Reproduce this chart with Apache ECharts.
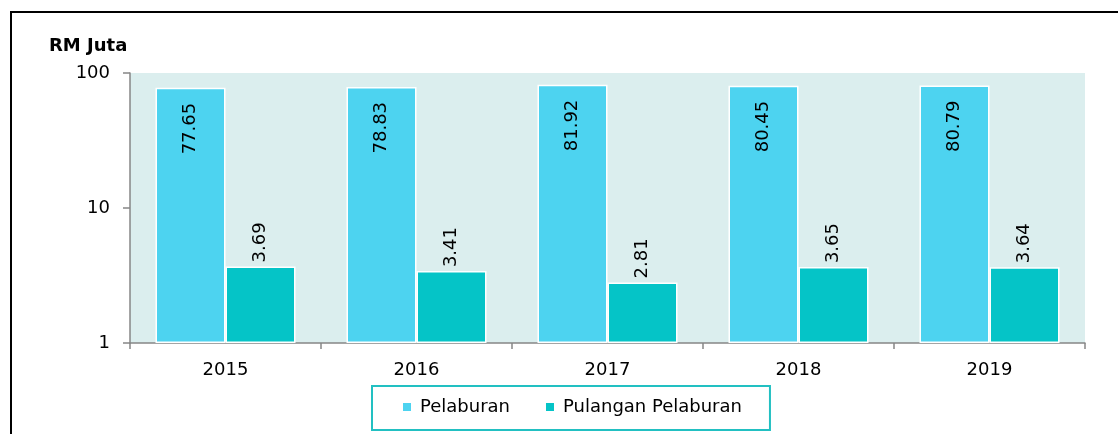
<!DOCTYPE html>
<html>
<head>
<meta charset="utf-8">
<script src="https://cdn.jsdelivr.net/npm/echarts@6/dist/echarts.min.js"></script>
<style>
  html, body { margin: 0; padding: 0; overflow: hidden; background: #fff; }
  .frame {
    position: absolute;
    left: 10px;
    top: 11px;
    width: 1200px;
    height: 600px;
    border: 2px solid #000;
  }
  #chart {
    position: absolute;
    left: 0;
    top: 0;
    width: 1118px;
    height: 434px;
  }
</style>
</head>
<body>
<div class="frame"></div>
<div id="chart"></div>
<script>
  var years = ["2015", "2016", "2017", "2018", "2019"];
  var pelaburan = [77.65, 78.83, 81.92, 80.45, 80.79];
  var pulangan = [3.69, 3.41, 2.81, 3.65, 3.64];

  var fontFam = "DejaVu Sans";
  var myChart = echarts.init(document.getElementById("chart"));

  var option = {
    animation: false,
    textStyle: { fontFamily: fontFam },
    title: {
      text: "RM Juta",
      left: 44,
      top: 32,
      textStyle: { fontSize: 18, fontWeight: "bold", color: "#000", fontFamily: fontFam },
    },
    grid: {
      left: 130,
      right: 33,
      top: 73,
      bottom: 91,
      show: true,
      backgroundColor: "#dbeeee",
      borderWidth: 0,
    },
    legend: {
      left: 372,
      top: 386,
      icon: "rect",
      itemWidth: 10,
      itemHeight: 10,
      itemGap: 34,
      padding: [12, 28, 14, 29],
      borderColor: "#22c0c2",
      borderWidth: 2,
      textStyle: { fontSize: 18, color: "#000", fontFamily: fontFam, padding: [0, 0, 0, 3] },
      data: ["Pelaburan", "Pulangan Pelaburan"],
    },
    xAxis: {
      type: "category",
      data: years,
      axisLine: { lineStyle: { color: "#868686", width: 1.5 } },
      axisTick: { show: true, length: 6, lineStyle: { color: "#868686", width: 1.5 } },
      axisLabel: { fontSize: 18, color: "#000", margin: 18, fontFamily: fontFam },
    },
    yAxis: {
      type: "log",
      logBase: 10,
      min: 1,
      max: 100,
      axisLine: { show: true, lineStyle: { color: "#868686", width: 1.5 } },
      axisTick: { show: true, length: 7, lineStyle: { color: "#868686", width: 1.5 } },
      axisLabel: { fontSize: 18, color: "#000", margin: 20, fontFamily: fontFam },
      splitLine: { show: false },
    },
    series: [
      {
        name: "Pelaburan",
        type: "bar",
        data: pelaburan,
        barWidth: 70,
        barGap: "0%",
        itemStyle: { color: "#4dd3f0", borderColor: "#fff", borderWidth: 1.5 },
        label: {
          show: true,
          position: "insideTop",
          rotate: 90,
          align: "right",
          verticalAlign: "middle",
          distance: 15,
          fontSize: 18,
          color: "#000",
          fontFamily: fontFam,
          formatter: function (p) {
            return p.value.toFixed(2);
          },
        },
      },
      {
        name: "Pulangan Pelaburan",
        type: "bar",
        data: pulangan,
        barWidth: 70,
        barGap: "0%",
        itemStyle: { color: "#05c4c7", borderColor: "#fff", borderWidth: 1.5 },
        label: {
          show: true,
          position: "top",
          rotate: 90,
          align: "left",
          verticalAlign: "middle",
          distance: 4,
          fontSize: 18,
          color: "#000",
          fontFamily: fontFam,
          formatter: function (p) {
            return p.value.toFixed(2);
          },
        },
      },
    ],
  };

  myChart.setOption(option);
</script>
</body>
</html>
